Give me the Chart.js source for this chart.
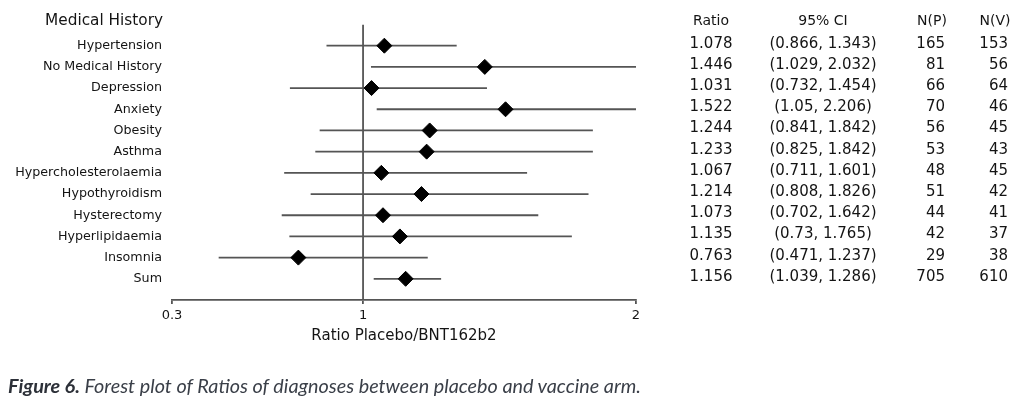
<!DOCTYPE html>
<html>
<head>
<meta charset="utf-8">
<script src="https://cdn.jsdelivr.net/npm/chart.js@4.4.1/dist/chart.umd.min.js"></script>
<style>
  body { margin: 0; background: #fff; }
  #wrap { position: relative; width: 1024px; height: 408px; }
  #caption {
    position: absolute; left: 8px; top: 373px;
    font-family: Lato, "Open Sans", sans-serif; font-style: italic;
    font-size: 19.8px; color: #3a3f48; white-space: nowrap; line-height: 24px;
  }
  #caption b { color: #2c3038; }
</style>
</head>
<body>
<div id="wrap">
  <canvas id="forest" width="1024" height="408"></canvas>
  <div id="caption"><b>Figure 6.</b> Forest plot of Ratios of diagnoses between placebo and vaccine arm.</div>
</div>
<script>
// --- data ---
const categories = ['Hypertension', 'No Medical History', 'Depression', 'Anxiety', 'Obesity', 'Asthma',
    'Hypercholesterolaemia', 'Hypothyroidism', 'Hysterectomy', 'Hyperlipidaemia', 'Insomnia', 'Sum'];
const ratios = [1.078, 1.446, 1.031, 1.522, 1.244, 1.233, 1.067, 1.214, 1.073, 1.135, 0.763, 1.156];
const ciLow = [0.866, 1.029, 0.732, 1.05, 0.841, 0.825, 0.711, 0.808, 0.702, 0.73, 0.471, 1.039];
const ciHigh = [1.343, 2.032, 1.454, 2.206, 1.842, 1.842, 1.601, 1.826, 1.642, 1.765, 1.237, 1.286];
const nPlacebo = [165, 81, 66, 70, 56, 53, 48, 51, 44, 42, 29, 705];
const nVaccine = [153, 56, 64, 46, 45, 43, 45, 42, 41, 37, 38, 610];
const xTicks = [0.3, 1, 2];
const refValue = 1;

const FONT = "'DejaVu Sans', sans-serif";
const TEXT = '#141414';
const LINE = '#555';

// one row per category, row 0 is the header
const rowOf = i => i + 1;

// CI whiskers, one small dataset per row
const ciSets = categories.map((c, i) => ({
    type: 'line',
    label: c + ' CI',
    data: [{ x: ciLow[i], y: rowOf(i) }, { x: ciHigh[i], y: rowOf(i) }],
    borderColor: LINE,
    borderWidth: 1.8,
    pointRadius: 0,
    order: 1
}));

// table to the right of the plot + header text
const tablePlugin = {
    id: 'forestTable',
    afterDraw(chart) {
        const ctx = chart.ctx;
        const y = chart.scales.y;
        const headY = 21;
        ctx.save();
        ctx.fillStyle = TEXT;
        ctx.textBaseline = 'middle';

        ctx.font = '15.3px ' + FONT;
        ctx.textAlign = 'right';
        ctx.fillText('Medical History', 163, headY);

        ctx.font = '14px ' + FONT;
        ctx.textAlign = 'center';
        ctx.fillText('Ratio', 711, headY);
        ctx.fillText('95% CI', 823, headY);
        ctx.fillText('N(P)', 932, headY);
        ctx.fillText('N(V)', 995, headY);

        ctx.font = '15px ' + FONT;
        categories.forEach((c, i) => {
            const py = y.getPixelForValue(rowOf(i)) - 2;
            ctx.textAlign = 'center';
            ctx.fillText(ratios[i].toFixed(3), 711, py);
            ctx.fillText('(' + ciLow[i] + ', ' + ciHigh[i] + ')', 823, py);
            ctx.textAlign = 'right';
            ctx.fillText(String(nPlacebo[i]), 945, py);
            ctx.fillText(String(nVaccine[i]), 1008, py);
        });
        ctx.restore();
    }
};

const ctx = document.getElementById('forest').getContext('2d');
const forest = new Chart(ctx, {
    type: 'scatter',
    data: {
        datasets: [{
            label: 'Ratio',
            data: ratios.map((r, i) => ({ x: r, y: rowOf(i) })),
            pointStyle: 'rectRot',
            pointRadius: 7.5,
            pointHoverRadius: 7.5,
            backgroundColor: '#000',
            borderColor: '#000',
            borderWidth: 1,
            order: 0
        },
        ...ciSets,
        {
            type: 'line',
            label: 'Reference',
            data: [{ x: refValue, y: 0 }, { x: refValue, y: categories.length + 1 }],
            borderColor: LINE,
            borderWidth: 1.8,
            pointRadius: 0,
            order: 2
        }]
    },
    options: {
        responsive: false,
        animation: false,
        layout: { padding: { left: 0, right: 388, top: 24.5, bottom: 60 } },
        plugins: {
            legend: { display: false },
            tooltip: { enabled: false }
        },
        scales: {
            x: {
                type: 'linear',
                min: 0.3,
                max: 2,
                afterBuildTicks: scale => { scale.ticks = xTicks.map(v => ({ value: v })); },
                afterFit: scale => { scale.height = 48; },
                ticks: {
                    color: TEXT,
                    font: { family: FONT, size: 13 },
                    padding: 4,
                    callback: v => String(v)
                },
                grid: { drawOnChartArea: false, drawTicks: true, tickLength: 4, color: LINE, lineWidth: 1.8 },
                border: { color: LINE, width: 1.8 },
                title: {
                    display: true,
                    text: 'Ratio Placebo/BNT162b2',
                    color: TEXT,
                    font: { family: FONT, size: 15 },
                    padding: { top: 4, bottom: 3 }
                }
            },
            y: {
                type: 'linear',
                reverse: true,
                min: 0,
                max: categories.length + 1,
                afterBuildTicks: scale => { scale.ticks = categories.map((c, i) => ({ value: rowOf(i) })); },
                afterFit: scale => { scale.width = 172; },
                ticks: {
                    color: TEXT,
                    font: { family: FONT, size: 12.7 },
                    padding: 10,
                    callback: v => categories[v - 1]
                },
                grid: { display: false, drawTicks: false },
                border: { display: false }
            }
        }
    },
    plugins: [tablePlugin]
});
</script>
</body>
</html>
